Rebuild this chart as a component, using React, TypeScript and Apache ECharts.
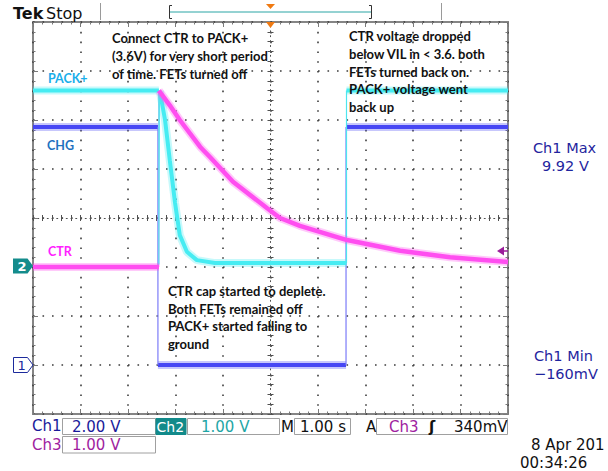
import React, { useEffect, useRef } from "react";
import * as echarts from "echarts";

// ---- Data (time in s, 1.00 s/div, 10 divisions; volts per channel) ----
// Ch1 = CHG (2.00 V/div), Ch2 = PACK+ (1.00 V/div), Ch3 = CTR (1.00 V/div)
const ch1Time = [0, 2.63, 2.63, 6.59, 6.59, 10];
const ch1Volt = [9.71, 9.71, 0.0, 0.0, 9.71, 9.71];

const ch2Time = [0, 2.65, 2.65, 2.66, 2.67, 2.78, 2.88, 2.99, 3.09, 3.24, 3.45, 3.83, 6.6, 6.6, 10];
const ch2Volt = [3.6, 3.6, 0.05, 3.58, 3.59, 3.0, 2.18, 1.31, 0.65, 0.31, 0.14, 0.08, 0.08, 3.6, 3.6];

const ch3Time = [0, 2.65, 2.65, 2.88, 3.09, 3.52, 3.73, 4.21, 4.93, 5.2, 5.62, 6.61, 7.73, 8.78, 10];
const ch3Volt = [0.0, 0.0, 3.6, 3.3, 3.0, 2.45, 2.24, 1.74, 1.2, 1.0, 0.84, 0.55, 0.33, 0.2, 0.1];

// volts per division and ground position (divisions from screen centre)
const channelScale = [2, 1, 1];
const channelGround = [-3, -1, -1];

const leftNote = ["Connect CTR to PACK+", "(3.6V) for very short period", "of time. FETs turned off"];
const rightNote = [
  "CTR voltage dropped",
  "below VIL in < 3.6. both",
  "FETs turned back on.",
  "PACK+ voltage went",
  "back up",
];
const bottomNote = ["CTR cap started to deplete.", "Both FETs remained off", "PACK+ started falling to", "ground"];

const C1 = "#4646f4";
const C2 = "#46ecf2";
const C3 = "#ff4ef0";

function buildTrace(times: number[], volts: number[], scale: number, ground: number) {
  const body: any[] = [];
  const edge: any[] = [];
  for (let i = 0; i < times.length; i++) {
    const p = [times[i], volts[i] / scale + ground];
    body.push(p);
    if (i < times.length - 1 && times[i + 1] - times[i] < 0.015) {
      const q = [times[i + 1], volts[i + 1] / scale + ground];
      edge.push(p, q, [times[i], "-"]);
      body.push([times[i], "-"]);
    }
  }
  return { body, edge };
}

function lineSeries(data: any[], color: string, width: number, opacity = 1) {
  return {
    type: "line",
    xAxisIndex: 0,
    yAxisIndex: 0,
    data,
    symbol: "none",
    showSymbol: false,
    silent: true,
    connectNulls: false,
    clip: true,
    lineStyle: { color, width, opacity },
    itemStyle: { color },
  };
}

const SCOPE_FONT = "DejaVu Sans";
const NOTE_FONT = "Lato";

function txt(text: string, x: number, y: number, fill: string, font: string, extra: any = {}) {
  return {
    type: "text",
    x,
    y,
    z: 100,
    silent: true,
    style: { text, fill, font, verticalAlign: "middle", textVerticalAlign: "middle", ...extra },
  };
}

function box(x: number, y: number, w: number, h: number, fill = "#ffffff", stroke = "#a0a0a0") {
  return {
    type: "rect",
    z: 90,
    silent: true,
    shape: { x, y, width: w, height: h },
    style: { fill, stroke, lineWidth: 1 },
  };
}

export default function App() {
  const ref = useRef<HTMLDivElement>(null);

  useEffect(() => {
    if (!ref.current) return;
    const chart = echarts.init(ref.current, undefined, { renderer: "svg" });

    const t1 = buildTrace(ch1Time, ch1Volt, channelScale[0], channelGround[0]);
    const t2 = buildTrace(ch2Time, ch2Volt, channelScale[1], channelGround[1]);
    const t3 = buildTrace(ch3Time, ch3Volt, channelScale[2], channelGround[2]);

    const tickColor = "#7a7a7a";
    const dotColor = "#3c3c3c";
    const borderAxisX = (position: string, split: boolean) => ({
      gridIndex: 0,
      type: "value",
      min: 0,
      max: 10,
      interval: 1,
      position,
      axisLine: { show: false, onZero: false },
      axisTick: { show: true, inside: true, length: 5, lineStyle: { color: tickColor } },
      minorTick: { show: true, splitNumber: 5, length: 2.5, lineStyle: { color: tickColor } },
      axisLabel: { show: false },
      splitLine: { show: split, lineStyle: { color: dotColor, width: 1.6, type: [1.6, 8.2] } },
      minorSplitLine: { show: false },
    });
    const borderAxisY = (position: string, split: boolean) => ({
      gridIndex: 0,
      type: "value",
      min: -4,
      max: 4,
      interval: 1,
      position,
      axisLine: { show: false, onZero: false },
      axisTick: { show: true, inside: true, length: 5, lineStyle: { color: tickColor } },
      minorTick: { show: true, splitNumber: 5, length: 2.5, lineStyle: { color: tickColor } },
      axisLabel: { show: false },
      splitLine: { show: split, lineStyle: { color: dotColor, width: 1.6, type: [1.6, 7.9] } },
      minorSplitLine: { show: false },
    });
    const centreAxisX = (gridIndex: number, inside: boolean) => ({
      gridIndex,
      type: "value",
      min: -5,
      max: 5,
      interval: 1,
      axisLine: { show: inside, onZero: true, lineStyle: { color: "#505050", width: 1, type: [1, 3.75] } },
      axisTick: { show: true, inside, length: 3, lineStyle: { color: "#505050" } },
      minorTick: { show: true, splitNumber: 5, length: 3, lineStyle: { color: "#505050" } },
      axisLabel: { show: false },
      splitLine: { show: false },
    });
    const centreAxisY = (gridIndex: number, inside: boolean) => ({
      gridIndex,
      type: "value",
      min: -4,
      max: 4,
      interval: 1,
      axisLine: { show: inside, onZero: true, lineStyle: { color: "#505050", width: 1, type: [1, 3.9] } },
      axisTick: { show: true, inside, length: 3, lineStyle: { color: "#505050" } },
      minorTick: { show: true, splitNumber: 5, length: 3, lineStyle: { color: "#505050" } },
      axisLabel: { show: false },
      splitLine: { show: false },
    });

    const gridRect = { left: 33, top: 22, width: 475, height: 392, containLabel: false, outerBoundsMode: "none" };

    const graphics: any[] = [];
    // top bar
    graphics.push(txt("Tek", 13, 13, "#111111", `bold 16px ${SCOPE_FONT}`));
    graphics.push(txt("Stop", 46, 13, "#111111", `16px ${SCOPE_FONT}`));
    graphics.push({ type: "line", z: 90, silent: true, shape: { x1: 100.5, y1: 3, x2: 100.5, y2: 20 }, style: { stroke: "#9a9a9a", lineWidth: 1 } });
    graphics.push({ type: "line", z: 90, silent: true, shape: { x1: 441.5, y1: 3, x2: 441.5, y2: 20 }, style: { stroke: "#9a9a9a", lineWidth: 1 } });
    graphics.push({ type: "polyline", z: 90, silent: true, shape: { points: [[172, 5.5], [169.5, 5.5], [169.5, 18.5], [172, 18.5]] }, style: { stroke: "#333", lineWidth: 1, fill: null } });
    graphics.push({ type: "polyline", z: 90, silent: true, shape: { points: [[369, 5.5], [371.5, 5.5], [371.5, 18.5], [369, 18.5]] }, style: { stroke: "#333", lineWidth: 1, fill: null } });
    graphics.push({ type: "line", z: 90, silent: true, shape: { x1: 170, y1: 12, x2: 371, y2: 12 }, style: { stroke: "#2aa5a5", lineWidth: 1 } });
    graphics.push({ type: "polygon", z: 95, silent: true, shape: { points: [[266, 4], [275, 4], [270.5, 9]] }, style: { fill: "#f07a12" } });
    graphics.push({ type: "polygon", z: 95, silent: true, shape: { points: [[266, 22], [275, 22], [270.5, 28]] }, style: { fill: "#f07a12" } });

    // channel labels
    graphics.push(txt("PACK+", 48, 78, "#1aaeea", `bold 12.5px ${NOTE_FONT}`));
    graphics.push(txt("CHG", 47, 145, "#1f72bf", `bold 12.5px ${NOTE_FONT}`));
    graphics.push(txt("CTR", 48, 251, "#ff22ff", `bold 12.5px ${NOTE_FONT}`));

    // channel ground markers
    graphics.push({ type: "polygon", z: 95, silent: true, shape: { points: [[13, 258.5], [27.5, 258.5], [33, 266], [27.5, 273.5], [13, 273.5]] }, style: { fill: "#148c8c" } });
    graphics.push(txt("2", 17.5, 266.5, "#ffffff", `bold 13px ${SCOPE_FONT}`));
    graphics.push({ type: "polygon", z: 95, silent: true, shape: { points: [[13.5, 357.5], [27.5, 357.5], [33, 365], [27.5, 372.5], [13.5, 372.5]] }, style: { fill: "#ffffff", stroke: "#1c2a9c", lineWidth: 1 } });
    graphics.push(txt("1", 17.5, 365.5, "#1c2a9c", `13px ${SCOPE_FONT}`));

    // trigger level marker
    graphics.push({ type: "polygon", z: 95, silent: true, shape: { points: [[497, 251], [504, 246.5], [504, 255.5]] }, style: { fill: "#9b1d9b" } });
    graphics.push({ type: "line", z: 95, silent: true, shape: { x1: 503, y1: 251, x2: 508, y2: 251 }, style: { stroke: "#9b1d9b", lineWidth: 1.5 } });

    // annotations
    leftNote.forEach((s, i) => graphics.push(txt(s, 112, 38 + i * 17.8, "#111111", `bold 13px ${NOTE_FONT}`)));
    rightNote.forEach((s, i) => graphics.push(txt(s, 349, 36 + i * 17.8, "#111111", `bold 13px ${NOTE_FONT}`)));
    bottomNote.forEach((s, i) => graphics.push(txt(s, 168, 291 + i * 17.6, "#111111", `bold 13px ${NOTE_FONT}`)));

    // right measurement panel
    const navy = "#1f259e";
    const mf = `14.5px ${SCOPE_FONT}`;
    graphics.push(txt("Ch1 Max", 533, 148, navy, mf));
    graphics.push(txt("9.92 V", 542, 166, navy, mf));
    graphics.push(txt("Ch1 Min", 534, 356, navy, mf));
    graphics.push(txt("\u2212160mV", 534, 374, navy, mf));

    // bottom bar
    const f = `15px ${SCOPE_FONT}`;
    graphics.push(txt("Ch1", 32, 426, "#1a1a9a", f));
    graphics.push(box(62.5, 418.5, 93, 16));
    graphics.push(txt("2.00 V", 72, 426.5, "#1a1a9a", f));
    graphics.push(box(156, 418.5, 30, 16, "#128a8a", "#128a8a"));
    graphics.push(txt("Ch2", 156.5, 426.5, "#ffffff", `14px ${SCOPE_FONT}`));
    graphics.push(box(187.5, 418.5, 92, 16));
    graphics.push(txt("1.00 V", 201, 426.5, "#1fa6a6", f));
    graphics.push(txt("M", 281, 426.5, "#111111", f));
    graphics.push(box(294.5, 418.5, 56, 16));
    graphics.push(txt("1.00 s", 300, 426.5, "#111111", f));
    graphics.push(txt("A", 366, 426.5, "#111111", f));
    graphics.push(box(376.5, 418.5, 131, 16));
    graphics.push(txt("Ch3", 389, 426.5, "#a01ea0", f));
    graphics.push(txt("\u0283", 429, 426.5, "#111111", `bold 15px ${SCOPE_FONT}`));
    graphics.push(txt("340mV", 454, 426.5, "#111111", f));
    graphics.push(txt("Ch3", 32, 444.5, "#a01ea0", f));
    graphics.push(box(62.5, 436.5, 93, 16.5));
    graphics.push(txt("1.00 V", 72, 445, "#a01ea0", f));
    graphics.push(txt("8 Apr 201", 531, 445, "#111111", f));
    graphics.push(txt("00:34:26", 520, 463, "#111111", f));

    const option: any = {
      animation: false,
      backgroundColor: "#ffffff",
      grid: [
        { ...gridRect, show: true, borderColor: "#858585", borderWidth: 2, backgroundColor: "transparent" },
        { ...gridRect, show: false },
        { ...gridRect, show: false },
      ],
      xAxis: [borderAxisX("bottom", true), borderAxisX("top", false), centreAxisX(1, true), centreAxisX(2, false)],
      yAxis: [borderAxisY("left", true), borderAxisY("right", false), centreAxisY(1, true), centreAxisY(2, false)],
      series: [
        lineSeries(t3.edge, "#ff80f4", 1),
        lineSeries(t1.body, C1, 8, 0.3),
        lineSeries(t1.body, C1, 4),
        lineSeries(t1.edge, "#7b7bf8", 1.2),
        lineSeries(t2.body, C2, 8, 0.3),
        lineSeries(t2.body, C2, 4),
        lineSeries(t2.edge, "#4ee6ee", 1.2),
        lineSeries(t3.body, C3, 8, 0.3),
        lineSeries(t3.body, C3, 4.5),
      ],
      graphic: graphics,
    };

    chart.setOption(option);
    return () => chart.dispose();
  }, []);

  return (
    <div
      ref={ref}
      style={{ position: "absolute", left: 0, top: 0, width: 608, height: 471, background: "#ffffff" }}
    />
  );
}
